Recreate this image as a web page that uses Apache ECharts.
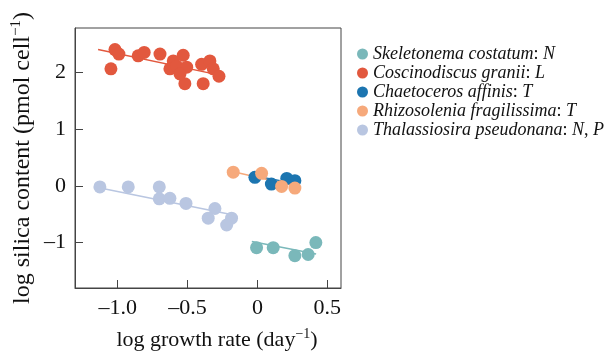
<!DOCTYPE html>
<html>
<head>
  <meta charset="utf-8">
  <title>Silica vs growth rate</title>
  <script src="https://cdn.jsdelivr.net/npm/echarts@6.0.0/dist/echarts.min.js"></script>
</head>
<body style="margin:0">
  <div id="main" style="width:609px;height:356px"></div>
  <script type="text/javascript">
    var species = ['Skeletonema costatum', 'Coscinodiscus granii', 'Chaetoceros affinis',
      'Rhizosolenia fragilissima', 'Thalassiosira pseudonana'];
    var factors = ['N', 'L', 'T', 'T', 'N, P'];
    var colors = ['#7ab8ba', '#e2583e', '#1c75b0', '#f6a97b', '#b9c6e1'];

    // [log growth rate, log silica content]
    var skeletonema = [[-0.006, -1.09], [0.113, -1.09], [0.268, -1.23], [0.363, -1.21], [0.418, -1.0]];
    var coscinodiscus = [
      [-1.019, 2.40], [-0.991, 2.32], [-1.048, 2.06], [-0.853, 2.29], [-0.81, 2.35],
      [-0.697, 2.32], [-0.602, 2.20], [-0.531, 2.30], [-0.626, 2.06], [-0.578, 2.11],
      [-0.506, 2.09], [-0.519, 1.80], [-0.399, 2.14], [-0.34, 2.20], [-0.388, 1.80],
      [-0.316, 2.06], [-0.275, 1.93], [-0.554, 1.97]
    ];
    var chaetoceros = [[-0.018, 0.15], [0.10, 0.03], [0.21, 0.13], [0.268, 0.09]];
    var rhizosolenia = [[-0.173, 0.24], [0.03, 0.22], [0.173, -0.01], [0.268, -0.04]];
    var thalassiosira = [
      [-1.127, -0.02], [-0.924, -0.02], [-0.702, -0.02], [-0.702, -0.23], [-0.626, -0.22],
      [-0.511, -0.31], [-0.304, -0.40], [-0.352, -0.57], [-0.185, -0.57], [-0.220, -0.69]
    ];
    var points = [skeletonema, coscinodiscus, chaetoceros, rhizosolenia, thalassiosira];

    // fitted lines, start and end
    var fits = [
      [[-0.04, -0.98], [0.42, -1.20]],
      [[-1.14, 2.40], [-0.27, 1.95]],
      [[-0.04, 0.18], [0.30, 0.03]],
      [[-0.21, 0.27], [0.30, -0.02]],
      [[-1.16, -0.02], [-0.18, -0.51]]
    ];

    var xTicks = [-1, -0.5, 0, 0.5];
    var yTicks = [-1, 0, 1, 2];

    var font = "'Liberation Serif', 'Times New Roman', serif";
    var myChart = echarts.init(document.getElementById('main'));

    var series = [];
    species.forEach(function (name, i) {
      series.push({
        name: name,
        type: 'line',
        data: fits[i],
        showSymbol: false,
        symbol: 'none',
        lineStyle: { color: colors[i], width: 1.5 },
        itemStyle: { color: colors[i] },
        z: 1,
        silent: true
      });
    });
    species.forEach(function (name, i) {
      series.push({
        name: name,
        type: 'scatter',
        data: points[i],
        symbolSize: 13,
        itemStyle: { color: colors[i], opacity: 1 },
        z: 2 + i
      });
    });

    var supStyle = { fontSize: 14, verticalAlign: 'top', padding: [0, 0, 12, 0], fontFamily: font, color: '#111' };

    var option = {
      animation: false,
      textStyle: { fontFamily: font },
      grid: {
        left: 75, right: 268, top: 28, bottom: 63,
        show: true, borderColor: '#444', borderWidth: 1
      },
      legend: {
        orient: 'vertical',
        left: 352,
        top: 40,
        itemWidth: 11,
        itemHeight: 11,
        itemGap: 1,
        data: species.map(function (n) { return { name: n, icon: 'circle' }; }),
        formatter: function (name) {
          var f = factors[species.indexOf(name)];
          return '{i|' + name + '}{n|: }{i|' + f.split(', ').join('}{n|, }{i|') + '}';
        },
        textStyle: {
          fontFamily: font,
          color: '#111',
          rich: {
            i: { fontStyle: 'italic', fontSize: 18, fontFamily: font, lineHeight: 18, color: '#111' },
            n: { fontSize: 18, fontFamily: font, lineHeight: 18, color: '#111' }
          }
        }
      },
      xAxis: {
        type: 'value',
        min: -1.305,
        max: 0.598,
        name: 'log growth rate (day{s|\u22121})',
        nameLocation: 'middle',
        nameGap: 39,
        nameTextStyle: {
          fontSize: 22, color: '#111', fontFamily: font,
          padding: [0, 0, 0, 18],
          rich: { s: supStyle }
        },
        axisLine: { show: true, onZero: false, lineStyle: { color: '#444' } },
        axisTick: { inside: true, length: 8, customValues: xTicks, lineStyle: { color: '#444' } },
        splitLine: { show: false },
        axisLabel: {
          customValues: xTicks,
          fontSize: 22, color: '#111', margin: 9,
          formatter: function (v) { return v === 0 ? '0' : v.toFixed(1).replace('-', '\u2013'); }
        }
      },
      yAxis: {
        type: 'value',
        min: -1.80,
        max: 2.78,
        name: 'log silica content (pmol cell{s|\u22121})',
        nameLocation: 'middle',
        nameGap: 38,
        nameTextStyle: {
          fontSize: 24, color: '#111', fontFamily: font,
          rich: { s: { fontSize: 15, verticalAlign: 'top', padding: [0, 0, 13, 0], fontFamily: font, color: '#111' } }
        },
        axisLine: { show: true, onZero: false, lineStyle: { color: '#444' } },
        axisTick: { inside: true, length: 8, customValues: yTicks, lineStyle: { color: '#444' } },
        splitLine: { show: false },
        axisLabel: {
          customValues: yTicks,
          fontSize: 22, color: '#111', margin: 9,
          formatter: function (v) { return String(v).replace('-', '\u2013'); }
        }
      },
      series: series
    };

    myChart.setOption(option);
  </script>
</body>
</html>
